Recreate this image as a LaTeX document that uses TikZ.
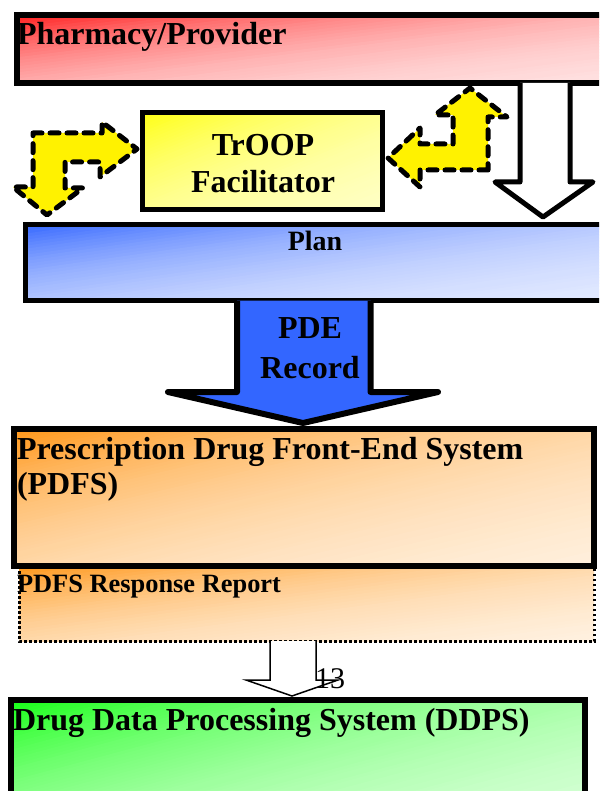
\documentclass[tikz,border=0pt]{standalone}
\usepackage{fontspec}
\setmainfont{Liberation Serif}
\definecolor{cred}{HTML}{FF1A1A}
\definecolor{cblue}{HTML}{3366FF}
\definecolor{cyel}{HTML}{FFFF10}
\definecolor{cyelw}{HTML}{FFFFF0}
\definecolor{corange}{HTML}{FF9515}
\definecolor{cgreen}{HTML}{15FF15}
\definecolor{pdeblue}{HTML}{3366FF}
% #1 node name, #2 start colour, #3 end colour, #4 angle of the isolines, #5 decay length
\newcommand{\gradfill}[5]{%
  \begin{scope}
    \clip (#1.north west) rectangle (#1.south east);
    \begin{scope}[shift={(#1.north west)}, rotate=#4]
      \foreach \dd in {0,3,...,330} {
        \pgfmathtruncatemacro\pp{100*exp(-(\dd+1.5)/#5)}
        \fill[#2!\pp!#3] (-900,\dd) rectangle (900,\dd+3.6);
      }
    \end{scope}
  \end{scope}}
\begin{document}
\begin{tikzpicture}[x=1pt,y=-1pt,
  box/.style={draw=none, fill=white, inner sep=0pt, outer sep=0pt, anchor=north west},
  border/.style={draw=black, line width=6pt},
  lbl/.style={inner sep=0pt, outer sep=0pt, font=\bfseries\fontsize{32}{37}\selectfont},
  yarrow/.style={fill=yellow, draw=black, line width=5pt, dash pattern=on 9pt off 8pt, line cap=round, line join=round},
  blockarrow/.style={draw=black, line join=round}
]
\useasboundingbox (0,0) rectangle (599,791);
\clip (0,0) rectangle (599,791);

% Pharmacy / Provider
\node[box, minimum width=624pt, minimum height=68pt] (pharm) at (16.5,15) {};
\gradfill{pharm}{cred}{white}{7}{68}
\draw[border] (pharm.north west) rectangle (pharm.south east);
\node[lbl, anchor=base west] (pharmT) at (17,45) {Pharmacy/Provider};

% TrOOP facilitator
\node[box, minimum width=240pt, minimum height=97pt] (troop) at (142.5,112.5) {};
\gradfill{troop}{cyel}{cyelw}{22}{110}
\draw[border, line width=5pt] (troop.north west) rectangle (troop.south east);
\node[lbl, align=center, anchor=north] (troopT) at (263,134) {TrOOP\\Facilitator};

% Plan
\node[box, minimum width=620pt, minimum height=76pt] (plan) at (25.5,224.5) {};
\gradfill{plan}{cblue}{white}{8}{80}
\draw[border, line width=5pt] (plan.north west) rectangle (plan.south east);
\node[lbl, font=\bfseries\fontsize{28}{32}\selectfont, anchor=base] (planT) at (315,251) {Plan};

% big hollow arrow from pharmacy to plan
\coordinate (hA) at (520,83);
\coordinate (hB) at (570,83);
\draw[blockarrow, fill=white, line width=5pt]
  (hA) -- (520,182) -- (495,182) -- (543,217) -- (593,182) -- (570,182) -- (hB);

% yellow dashed arrows
\draw[yarrow] (33,133) -- (102,133) -- (102,122) -- (137,149) -- (100,177) -- (100,162)
  -- (65,162) -- (65,188) -- (83,188) -- (47,215) -- (13,187) -- (33,187) -- cycle;
\draw[yarrow] (488,170) -- (420,170) -- (420,187) -- (388,158) -- (420,128) -- (420,144)
  -- (453,144) -- (453,115) -- (435,115) -- (470,88) -- (507,117) -- (488,117) -- cycle;

% PDE record arrow
\draw[blockarrow, fill=pdeblue, line width=6pt]
  (237,300.5) -- (237,392) -- (168,392) -- (303,423) -- (438,392) -- (370.5,392) -- (370.5,300.5);
\node[lbl, align=center, anchor=north, font=\bfseries\fontsize{32}{40}\selectfont] (pdeT) at (310,318) {PDE\\Record};

% PDFS response report (dotted)
\node[box, minimum width=575pt, minimum height=75pt] (resp) at (19,566) {};
\gradfill{resp}{corange}{white}{7.5}{75}
\draw[line width=3pt, dash pattern=on 2.5pt off 2.5pt] (resp.north west) rectangle (resp.south east);
\node[lbl, font=\bfseries\fontsize{26.4}{30}\selectfont, anchor=base west] (respT) at (17,592) {PDFS Response Report};

% PDFS
\node[box, minimum width=580pt, minimum height=136.5pt] (pdfs) at (14,429) {};
\gradfill{pdfs}{corange}{white}{13}{140}
\draw[border] (pdfs.north west) rectangle (pdfs.south east);
\node[lbl, align=left, anchor=north west, font=\bfseries\fontsize{32}{35}\selectfont] (pdfsT) at (17,437) {Prescription Drug Front-End System\\(PDFS)};

% small hollow arrow
\draw[blockarrow, fill=white, line width=1.5pt, line join=miter]
  (270,641) -- (270,680) -- (246,680) -- (292,696) -- (338,680) -- (316,680) -- (316,641);
\node[inner sep=0pt, anchor=base west, font=\fontsize{30}{34}\selectfont] (pnum) at (315,688) {13};

% DDPS
\node[box, minimum width=574pt, minimum height=150pt] (ddps) at (11,700) {};
\gradfill{ddps}{cgreen}{white}{15}{150}
\draw[border] (ddps.north west) rectangle (ddps.south east);
\node[lbl, anchor=base west] (ddpsT) at (13,730) {Drug Data Processing System (DDPS)};
\end{tikzpicture}
\end{document}
